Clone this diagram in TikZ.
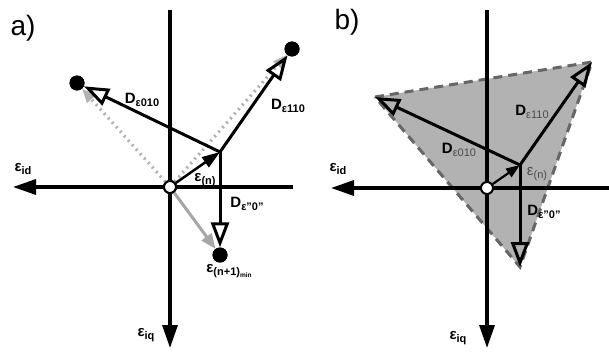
\documentclass[tikz,border=0pt]{standalone}
\usepackage{fontspec}
\setmainfont{Liberation Sans}
\usetikzlibrary{arrows.meta}

\newcommand\lsub[1]{\raisebox{-0.45ex}{\fontsize{11}{11}\selectfont #1}}
\newcommand\lsubsub[1]{\raisebox{-0.4ex}{\fontsize{6.5}{6.5}\selectfont #1}}

\begin{document}
\begin{tikzpicture}[x=1pt, y=-1pt,
    axis/.style={line width=3.3pt, -{Triangle[length=23pt, width=15pt]}},
    dvec/.style={line width=3pt, -{Triangle[open, length=25pt, width=18pt]}},
    evec/.style={line width=2.5pt, -{Triangle[length=18pt, width=12pt]}},
    ghost/.style={draw=black!30, line width=3.2pt, dash pattern=on 2pt off 4pt,
                  -{Triangle[length=14pt, width=11pt, fill=black!30]}},
    ghostline/.style={draw=black!35, line width=3pt,
                  -{Triangle[length=15pt, width=12pt, fill=black!35]}},
    dot/.style={circle, fill=black, inner sep=0pt, minimum size=15pt},
    orig/.style={circle, draw=black, fill=white, line width=2pt, inner sep=0pt, minimum size=12pt},
    lbl/.style={font=\bfseries\fontsize{15}{15}\selectfont, inner sep=0pt},
    thin lbl/.style={font=\fontsize{15}{15}\selectfont, inner sep=0pt, text=black!70},
    tag/.style={font=\fontsize{28}{28}\selectfont, inner sep=0pt},
    region/.style={fill=black!30, draw=black!60, line width=3pt, dash pattern=on 9pt off 6pt},
]
\useasboundingbox (0,0) rectangle (609,353);

% ---- a) ----
\coordinate (a-top) at (170,10);
\coordinate (a-bot) at (170,348);
\coordinate (a-right) at (293,187);
\coordinate (a-left) at (13,187);
\coordinate (a-en) at (220,152);
\node[dot] (a-e010) at (77,83) {};
\node[dot] (a-e110) at (292,49) {};
\node[dot] (a-enext) at (220,255) {};
\node[orig] (a-o) at (170,187) {};

\draw[axis] (a-top) -- (a-bot);
\draw[axis] (a-right) -- (a-left);

\draw[ghost] (a-o) -- (a-e010);
\draw[ghost] (a-o) -- (a-e110);
\draw[ghostline] (a-o) -- (a-enext);

\draw[dvec] (a-en) -- (a-e010);
\draw[dvec] (a-en) -- (a-e110);
\draw[dvec] (a-en) -- (a-enext);
\draw[evec] (a-o) -- (a-en);

\node[dot] at (a-e010) {};
\node[dot] at (a-e110) {};
\node[dot] at (a-enext) {};
\node[orig] at (a-o) {};

\node[tag] (a-tag) at (23,28) {a)};
\node[lbl] (a-l010) at (142,100) {D\lsub{ε010}};
\node[lbl] (a-l110) at (288,106) {D\lsub{ε110}};
\node[lbl] (a-len) at (205,180) {ε\lsub{(n)}};
\node[lbl] (a-l0) at (247,204) {D\lsub{ε"0"}};
\node[lbl] (a-lnext) at (229,271) {ε\lsub{(n+1)\lsubsub{min}}};
\node[lbl] (a-lid) at (23,169) {ε\lsub{id}};
\node[lbl] (a-liq) at (146,335) {ε\lsub{iq}};

% ---- b) ----
\coordinate (b-top) at (487,10);
\coordinate (b-bot) at (487,348);
\coordinate (b-right) at (609,188);
\coordinate (b-left) at (331,188);
\coordinate (b-en) at (520,165);
\coordinate (b-v010) at (375,97);
\coordinate (b-v110) at (592,62);
\coordinate (b-v0) at (520,267);

\draw[region] (b-v010) -- (b-v110) -- (b-v0) -- cycle;

\draw[axis] (b-top) -- (b-bot);
\draw[axis] (b-right) -- (b-left);

\draw[dvec] (b-en) -- (b-v010);
\draw[dvec] (b-en) -- (b-v110);
\draw[dvec] (b-en) -- (b-v0);

\node[orig] (b-o) at (487,188) {};
\draw[evec, line width=2.2pt, -{Triangle[length=14pt, width=10pt]}] (b-o) -- (b-en);

\node[tag] (b-tag) at (347,22) {b)};
\node[lbl] (b-l110) at (532,112) {D\lsub{\mdseries\color{black!70}ε110}};
\node[lbl] (b-l010) at (459,150) {D\lsub{\mdseries\color{black!70}ε010}};
\node[thin lbl] (b-len) at (537,174) {ε\lsub{(n)}};
\node[lbl] (b-l0) at (544,212) {D\lsub{ε"0"}};
\node[lbl] (b-lid) at (338,169) {ε\lsub{id}};
\node[lbl] (b-liq) at (458,338) {ε\lsub{iq}};
\end{tikzpicture}
\end{document}
